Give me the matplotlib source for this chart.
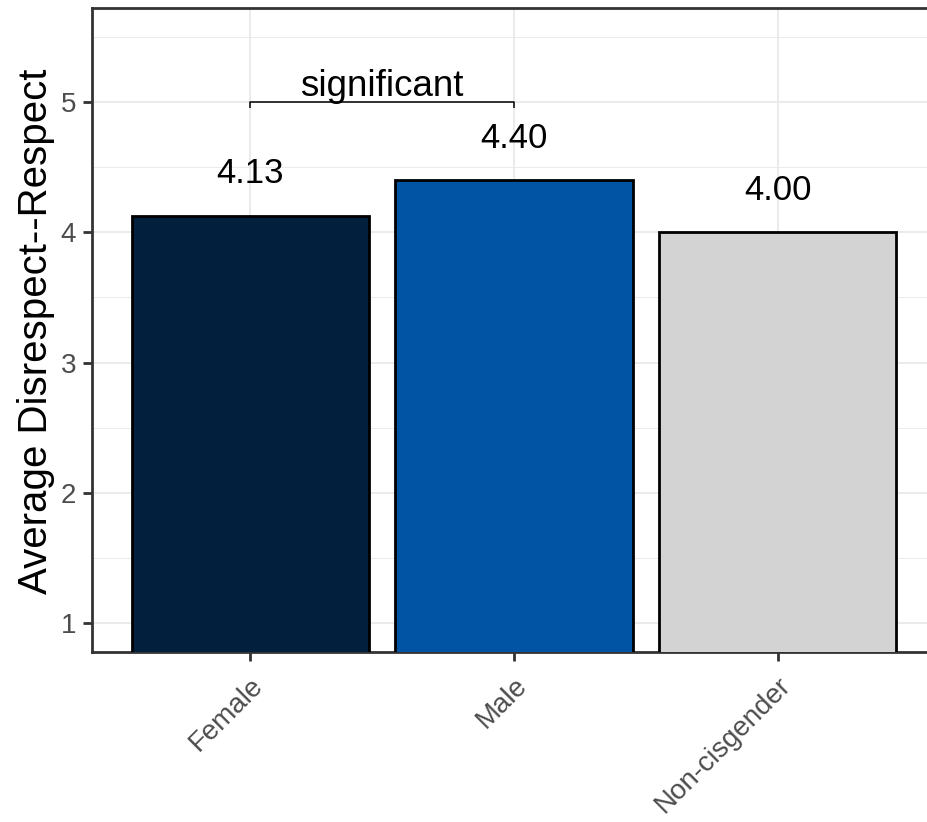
import numpy as np
import matplotlib.pyplot as plt
from matplotlib.ticker import MultipleLocator

# Mean score per gender group
groups = ['Female', 'Male', 'Non-cisgender']
means = [4.13, 4.40, 4.00]
bar_colors = ['#02203D', '#0054A3', '#D3D3D3']

# Comparison bracket between Female and Male
bracket_pair = (0, 1)
bracket_y = 5.0
bracket_text = 'significant'

plt.rcParams['font.family'] = ['Liberation Sans', 'DejaVu Sans']

fig = plt.figure(figsize=(9.28, 8.22), dpi=100)
ax = fig.add_axes([92 / 928, 1 - 652 / 822, 844 / 928, 644 / 822])

x = np.arange(len(groups))
ax.bar(x, means, width=0.9, color=bar_colors, edgecolor='black', linewidth=2.0, zorder=3)

# value labels above the bars
for xi, m in zip(x, means):
    ax.text(xi, m + 0.25, f'{m:.2f}', ha='center', va='baseline', fontsize=25, zorder=4)

# significance bracket
x0, x1 = bracket_pair
ax.plot([x0, x0, x1, x1], [bracket_y - 0.04, bracket_y, bracket_y, bracket_y - 0.04],
        color='black', linewidth=1.1, zorder=4, solid_capstyle='butt')
ax.text((x0 + x1) / 2, bracket_y + 0.05, bracket_text, ha='center', va='baseline',
        fontsize=26.5, zorder=4)

ax.set_xlim(-0.6, 2.6)
ax.set_ylim(0.775, 5.725)
ax.set_xticks(x)
ax.set_xticklabels(groups, rotation=45, ha='right', rotation_mode='anchor')
ax.yaxis.set_major_locator(MultipleLocator(1))
ax.yaxis.set_minor_locator(MultipleLocator(0.5))
ax.set_yticks(range(1, 6))

# theme_bw look
ax.grid(True, which='major', color='#EBEBEB', linewidth=1.4, zorder=0)
ax.grid(True, which='minor', axis='y', color='#EBEBEB', linewidth=0.7, zorder=0)
ax.set_axisbelow(True)
for sp in ax.spines.values():
    sp.set_color('#333333')
    sp.set_linewidth(2.0)
ax.tick_params(axis='both', which='major', color='#333333', width=2.0, length=6.5,
               labelsize=20, labelcolor='#4D4D4D', pad=5)
ax.tick_params(axis='y', which='minor', length=0)
ax.tick_params(axis='x', pad=8)

fig.text(36 / 928, 1 - 331 / 822, 'Average Disrespect--Respect', rotation=90,
         ha='center', va='center', fontsize=29)

fig.savefig('out.png', dpi=100)
